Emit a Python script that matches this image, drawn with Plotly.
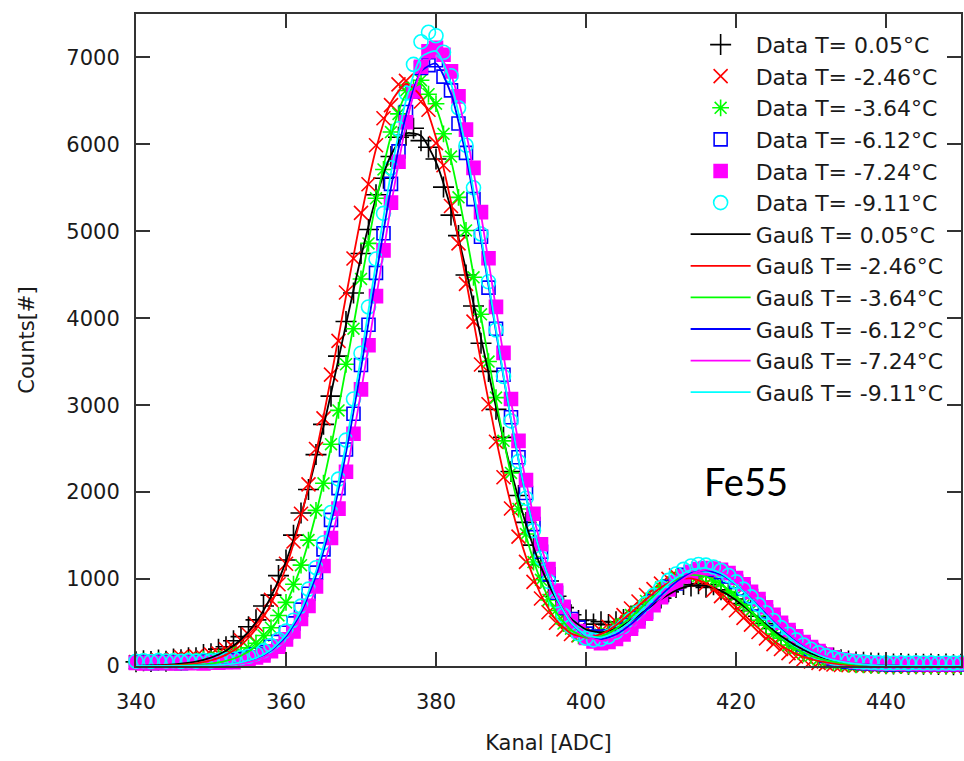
import plotly.graph_objects as go

# ---------------- data ----------------
channels = list(range(340, 451))          # Kanal [ADC], one bin per channel
fit_channels = list(range(340, 451, 2))   # sampling of the Gauss fit curves

labels_T = ["0.05", "-2.46", "-3.64", "-6.12", "-7.24", "-9.11"]

data_t005 = [48, 61, 52, 70, 55, 81, 72, 95, 96, 131,
             140, 194, 222, 290, 338, 452, 531, 690, 815, 1040,
             1219, 1505, 1760, 2031, 2432, 2780, 3104, 3565, 3962, 4290,
             4745, 5021, 5420, 5611, 5860, 6082, 6104, 6185, 6043, 5968,
             5832, 5509, 5187, 4951, 4498, 4141, 3713, 3389, 2952, 2630,
             2238, 1961, 1652, 1390, 1165, 978, 802, 671, 589, 523,
             530, 482, 510, 476, 508, 534, 575, 621, 662, 742,
             781, 853, 902, 938, 921, 947, 905, 934, 876, 842,
             771, 718, 637, 572, 489, 431, 362, 301, 258, 203,
             168, 139, 104, 92, 71, 58, 47, 42, 35, 31,
             27, 24, 30, 21, 26, 19, 24, 17, 22, 15,
             20]
data_t246 = [45, 58, 41, 66, 52, 78, 104, 83, 110, 97,
             131, 142, 190, 214, 296, 362, 478, 590, 760, 941,
             1176, 1432, 1751, 2089, 2496, 2848, 3352, 3740, 4296, 4688,
             5213, 5541, 5990, 6301, 6452, 6690, 6731, 6624, 6493, 6398,
             6015, 5760, 5291, 4862, 4395, 3962, 3468, 3011, 2580, 2171,
             1812, 1488, 1198, 968, 776, 618, 497, 421, 368, 352,
             341, 369, 402, 452, 511, 586, 662, 742, 817, 884,
             948, 1003, 1042, 1051, 1030, 992, 948, 876, 803, 724,
             641, 553, 476, 391, 318, 252, 196, 148, 109, 78,
             52, 36, 24, 17, 12, 10, 8, 6, 5, 4,
             3, 2, 4, 2, 3, 1, 2, 3, 1, 2,
             2]
data_t364 = [42, 55, 38, 61, 47, 58, 44, 69, 57, 80,
             72, 96, 103, 131, 152, 208, 262, 351, 440, 581,
             732, 941, 1160, 1448, 1790, 2102, 2551, 2940, 3471, 3880,
             4452, 4861, 5380, 5712, 6142, 6351, 6620, 6651, 6738, 6577,
             6468, 6122, 5860, 5391, 5010, 4471, 4046, 3502, 3087, 2590,
             2221, 1806, 1518, 1196, 992, 760, 638, 488, 430, 347,
             345, 318, 360, 368, 449, 482, 585, 630, 748, 791,
             902, 930, 1018, 1015, 1071, 1036, 1052, 978, 957, 856,
             811, 698, 641, 527, 470, 368, 321, 240, 206, 141,
             120, 76, 60, 38, 30, 19, 14, 12, 8, 6,
             5, 4, 6, 3, 5, 4, 2, 5, 3, 4,
             3]
data_t612 = [38, 45, 31, 49, 36, 42, 33, 47, 39, 52,
             44, 58, 61, 70, 83, 97, 132, 160, 221, 278,
             383, 490, 648, 831, 1074, 1342, 1681, 2046, 2490, 2901,
             3462, 3925, 4522, 4978, 5546, 5920, 6372, 6610, 6878, 6912,
             6968, 6780, 6621, 6240, 5902, 5370, 4938, 4352, 3879, 3350,
             2861, 2402, 1990, 1632, 1315, 1054, 842, 668, 540, 441,
             372, 338, 326, 341, 370, 418, 471, 552, 623, 745,
             802, 912, 951, 1048, 1081, 1112, 1124, 1109, 1078, 1031,
             968, 891, 806, 718, 627, 540, 455, 378, 309, 248,
             196, 152, 116, 88, 65, 49, 41, 33, 28, 24,
             21, 19, 23, 17, 21, 16, 20, 18, 15, 19,
             17]
data_t724 = [36, 28, 40, 31, 38, 29, 41, 33, 37, 30,
             42, 39, 48, 45, 61, 70, 98, 121, 170, 221,
             306, 398, 541, 692, 915, 1150, 1472, 1810, 2235, 2672,
             3182, 3690, 4255, 4781, 5330, 5801, 6255, 6610, 6893, 7072,
             7110, 7031, 6840, 6552, 6170, 5730, 5221, 4690, 4131, 3602,
             3071, 2590, 2140, 1752, 1401, 1115, 868, 680, 519, 402,
             322, 281, 262, 276, 311, 362, 430, 512, 601, 698,
             790, 880, 961, 1030, 1082, 1115, 1128, 1122, 1106, 1068,
             1012, 940, 853, 769, 676, 588, 497, 413, 341, 276,
             219, 171, 132, 101, 78, 60, 49, 41, 35, 31,
             28, 26, 30, 24, 27, 22, 25, 21, 24, 20,
             23]
data_t911 = [55, 61, 52, 64, 57, 60, 53, 62, 56, 65,
             59, 68, 72, 80, 96, 112, 141, 177, 236, 304,
             402, 527, 689, 884, 1131, 1418, 1765, 2150, 2598, 3071,
             3598, 4130, 4681, 5207, 5730, 6180, 6590, 6920, 7180, 7290,
             7250, 7060, 6790, 6420, 5990, 5501, 4970, 4420, 3866, 3331,
             2820, 2352, 1930, 1560, 1240, 972, 752, 583, 452, 371,
             320, 301, 310, 338, 390, 455, 535, 622, 718, 812,
             902, 985, 1058, 1112, 1150, 1168, 1160, 1139, 1098, 1041,
             968, 884, 795, 703, 612, 524, 442, 366, 300, 241,
             192, 151, 118, 93, 74, 60, 51, 45, 41, 38,
             36, 35, 38, 33, 37, 34, 36, 32, 35, 33,
             36]

# Gauss fit curves, read at every second channel (340, 342, ..., 450)
fit_t005 = [2, 6, 12, 26, 51, 97, 176, 305, 504, 797,
            1204, 1734, 2386, 3135, 3930, 4707, 5383, 5878, 6127, 6099,
            5797, 5260, 4557, 3772, 2980, 2251, 1631, 1138, 778, 544,
            420, 388, 429, 522, 644, 767, 869, 924, 922, 864,
            757, 622, 478, 344, 232, 146, 86, 48, 25, 12,
            5, 2, 1, 0, 0, 0]
fit_t246 = [1, 2, 6, 14, 31, 65, 128, 239, 425, 714,
            1136, 1715, 2450, 3316, 4253, 5166, 5947, 6484, 6697, 6555,
            6077, 5337, 4440, 3500, 2615, 1855, 1252, 815, 530, 375,
            328, 366, 469, 613, 768, 903, 990, 1008, 952, 835,
            680, 513, 359, 233, 140, 79, 41, 20, 9, 4,
            1, 0, 0, 0, 0, 0]
fit_t364 = [0, 1, 2, 5, 12, 27, 58, 118, 227, 412,
            708, 1146, 1751, 2523, 3432, 4406, 5336, 6099, 6577, 6692,
            6425, 5822, 4978, 4015, 3058, 2199, 1497, 974, 620, 414,
            330, 341, 427, 562, 722, 876, 993, 1048, 1029, 939,
            797, 628, 461, 314, 199, 117, 64, 33, 15, 7,
            3, 1, 0, 0, 0, 0]
fit_t612 = [0, 0, 0, 1, 3, 7, 17, 40, 86, 177,
            341, 614, 1040, 1649, 2453, 3424, 4481, 5502, 6335, 6842,
            6930, 6584, 5866, 4903, 3844, 2826, 1953, 1273, 795, 495,
            345, 309, 362, 482, 641, 813, 965, 1068, 1100, 1052,
            936, 774, 595, 425, 283, 175, 100, 53, 27, 12,
            5, 2, 0, 0, 0, 0]
fit_t724 = [0, 0, 0, 1, 2, 5, 12, 28, 65, 137,
            272, 507, 884, 1441, 2202, 3151, 4222, 5297, 6222, 6844,
            7050, 6799, 6141, 5193, 4112, 3050, 2121, 1386, 861, 525,
            347, 290, 329, 436, 593, 769, 935, 1056, 1109, 1080,
            976, 818, 636, 459, 307, 191, 110, 59, 29, 13,
            6, 2, 0, 0, 0, 0]
fit_t911 = [0, 0, 0, 1, 3, 8, 18, 43, 91, 187,
            359, 645, 1089, 1721, 2551, 3550, 4633, 5672, 6504, 7004,
            7073, 6699, 5950, 4954, 3872, 2839, 1956, 1274, 795, 499,
            355, 328, 391, 519, 686, 861, 1011, 1107, 1127, 1067,
            939, 768, 584, 413, 271, 166, 94, 50, 24, 11,
            5, 2, 0, 0, 0, 0]

x_ticks = [340, 360, 380, 400, 420, 440]
y_ticks = [0, 1000, 2000, 3000, 4000, 5000, 6000, 7000]

# ---------------- styles ----------------
colors = ["#000000", "#ff0000", "#00ff00", "#0000ff", "#ff00ff", "#00ffff"]
symbols = ["cross-thin-open", "x-thin-open", "asterisk-open",
           "square-open", "square", "circle-open"]
sizes = [15, 14, 14, 13, 13, 14]

data_sets = [data_t005, data_t246, data_t364, data_t612, data_t724, data_t911]
fit_sets = [fit_t005, fit_t246, fit_t364, fit_t612, fit_t724, fit_t911]

FONT = "DejaVu Sans"
TXT = "#1a1a1a"

fig = go.Figure()

for T, ys, c, s, sz in zip(labels_T, data_sets, colors, symbols, sizes):
    fig.add_trace(go.Scatter(
        x=channels, y=ys, mode="markers", name=f"Data T= {T}°C",
        cliponaxis=False,
        marker=dict(symbol=s, size=sz, color=c,
                    line=dict(color=c, width=1.6)),
    ))

for T, ys, c in zip(labels_T, fit_sets, colors):
    fig.add_trace(go.Scatter(
        x=fit_channels, y=ys, mode="lines", name=f"Gauß T= {T}°C",
        line=dict(color=c, width=1.8, shape="spline", smoothing=0.6),
    ))

fig.add_annotation(
    x=421.3, y=2130, xref="x", yref="y", text="Fe55", showarrow=False,
    font=dict(family="Lato", size=38, color="#000000"),
)

axis_common = dict(
    showline=True, linecolor="#333333", linewidth=2, mirror="ticks",
    ticks="inside", ticklen=14, tickwidth=1.5, tickcolor="#333333",
    showgrid=False, zeroline=False,
    tickfont=dict(family=FONT, size=21, color=TXT),
)

fig.update_layout(
    width=964, height=761,
    margin=dict(l=136, r=1, t=14, b=95),
    paper_bgcolor="white", plot_bgcolor="white",
    font=dict(family=FONT, color=TXT),
    xaxis=dict(range=[340, 450], tickvals=x_ticks, ticklabelstandoff=16,
               title=dict(text="Kanal [ADC]", standoff=22,
                          font=dict(family=FONT, size=21, color=TXT)),
               **axis_common),
    yaxis=dict(range=[0, 7500], tickvals=y_ticks, ticklabelstandoff=10,
               title=dict(text="Counts[#]", standoff=26,
                          font=dict(family=FONT, size=21, color=TXT)),
               **axis_common),
    legend=dict(x=0.985, xanchor="right", y=0.985, yanchor="top",
                bgcolor="rgba(0,0,0,0)", borderwidth=0,
                font=dict(family=FONT, size=22, color=TXT),
                itemwidth=60, tracegroupgap=0),
    showlegend=True,
)

fig.write_html("out.html")
